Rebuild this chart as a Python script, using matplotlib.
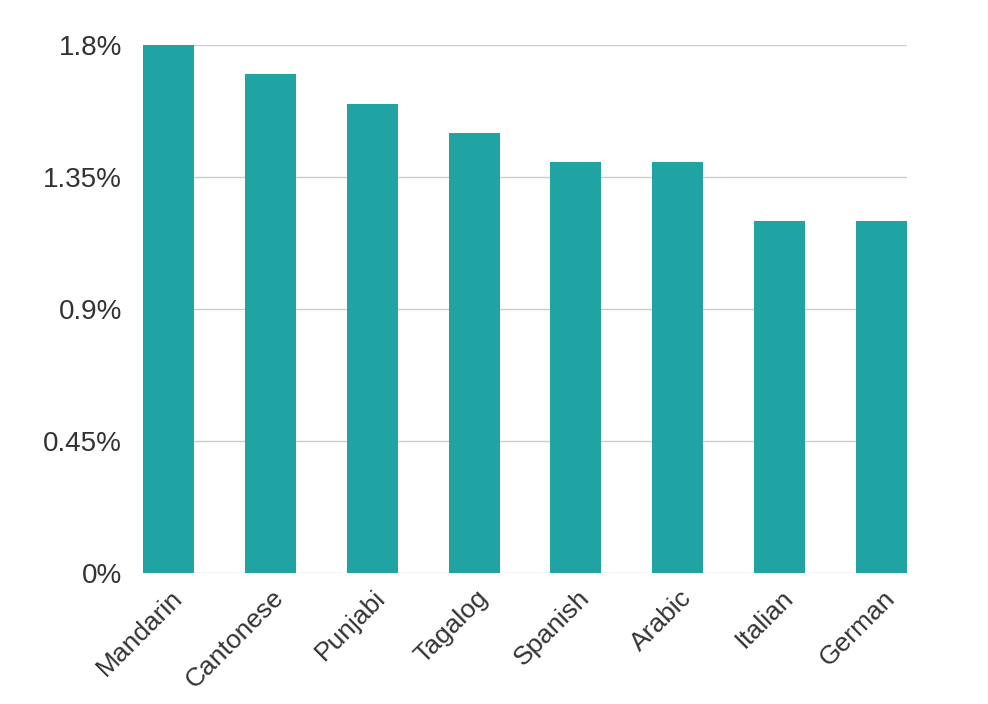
import numpy as np
import matplotlib.pyplot as plt
from matplotlib import transforms

languages = ['Mandarin', 'Cantonese', 'Punjabi', 'Tagalog', 'Spanish', 'Arabic', 'Italian', 'German']
share = [1.8, 1.7, 1.6, 1.5, 1.4, 1.4, 1.2, 1.2]
yticks = [0, 0.45, 0.9, 1.35, 1.8]
ytick_labels = ['0%', '0.45%', '0.9%', '1.35%', '1.8%']

plt.rcParams['font.family'] = ['Liberation Sans', 'DejaVu Sans']

fig = plt.figure(figsize=(9.88, 7.04), dpi=100)
ax = fig.add_axes([0.1447, 0.186, 0.7733, 0.750])

x = np.arange(len(languages))
ax.bar(x, share, width=0.5, color='#20a4a3', zorder=3)

ax.set_xlim(-0.25, len(languages) - 0.75)
ax.set_ylim(0, 1.8)
ax.set_yticks(yticks)
ax.set_yticklabels(ytick_labels, fontsize=20, color='#333333')
ax.set_xticks(x)
ax.set_xticklabels([])

# rotated category labels, nudged so their ends sit right of bar centres
offset = transforms.ScaledTranslation(10 / 100, -21 / 100, fig.dpi_scale_trans)
trans = ax.get_xaxis_transform() + offset
for xi, name in zip(x, languages):
    ax.text(xi, 0, name, transform=trans, fontsize=19, color='#333333',
            rotation=45, ha='right', va='center', rotation_mode='anchor')

ax.tick_params(axis='both', length=0)
ax.tick_params(axis='y', pad=15)
ax.grid(axis='y', color='#cccccc', linewidth=1, zorder=0)
for s in ax.spines.values():
    s.set_visible(False)

fig.savefig('out.png', dpi=100)
